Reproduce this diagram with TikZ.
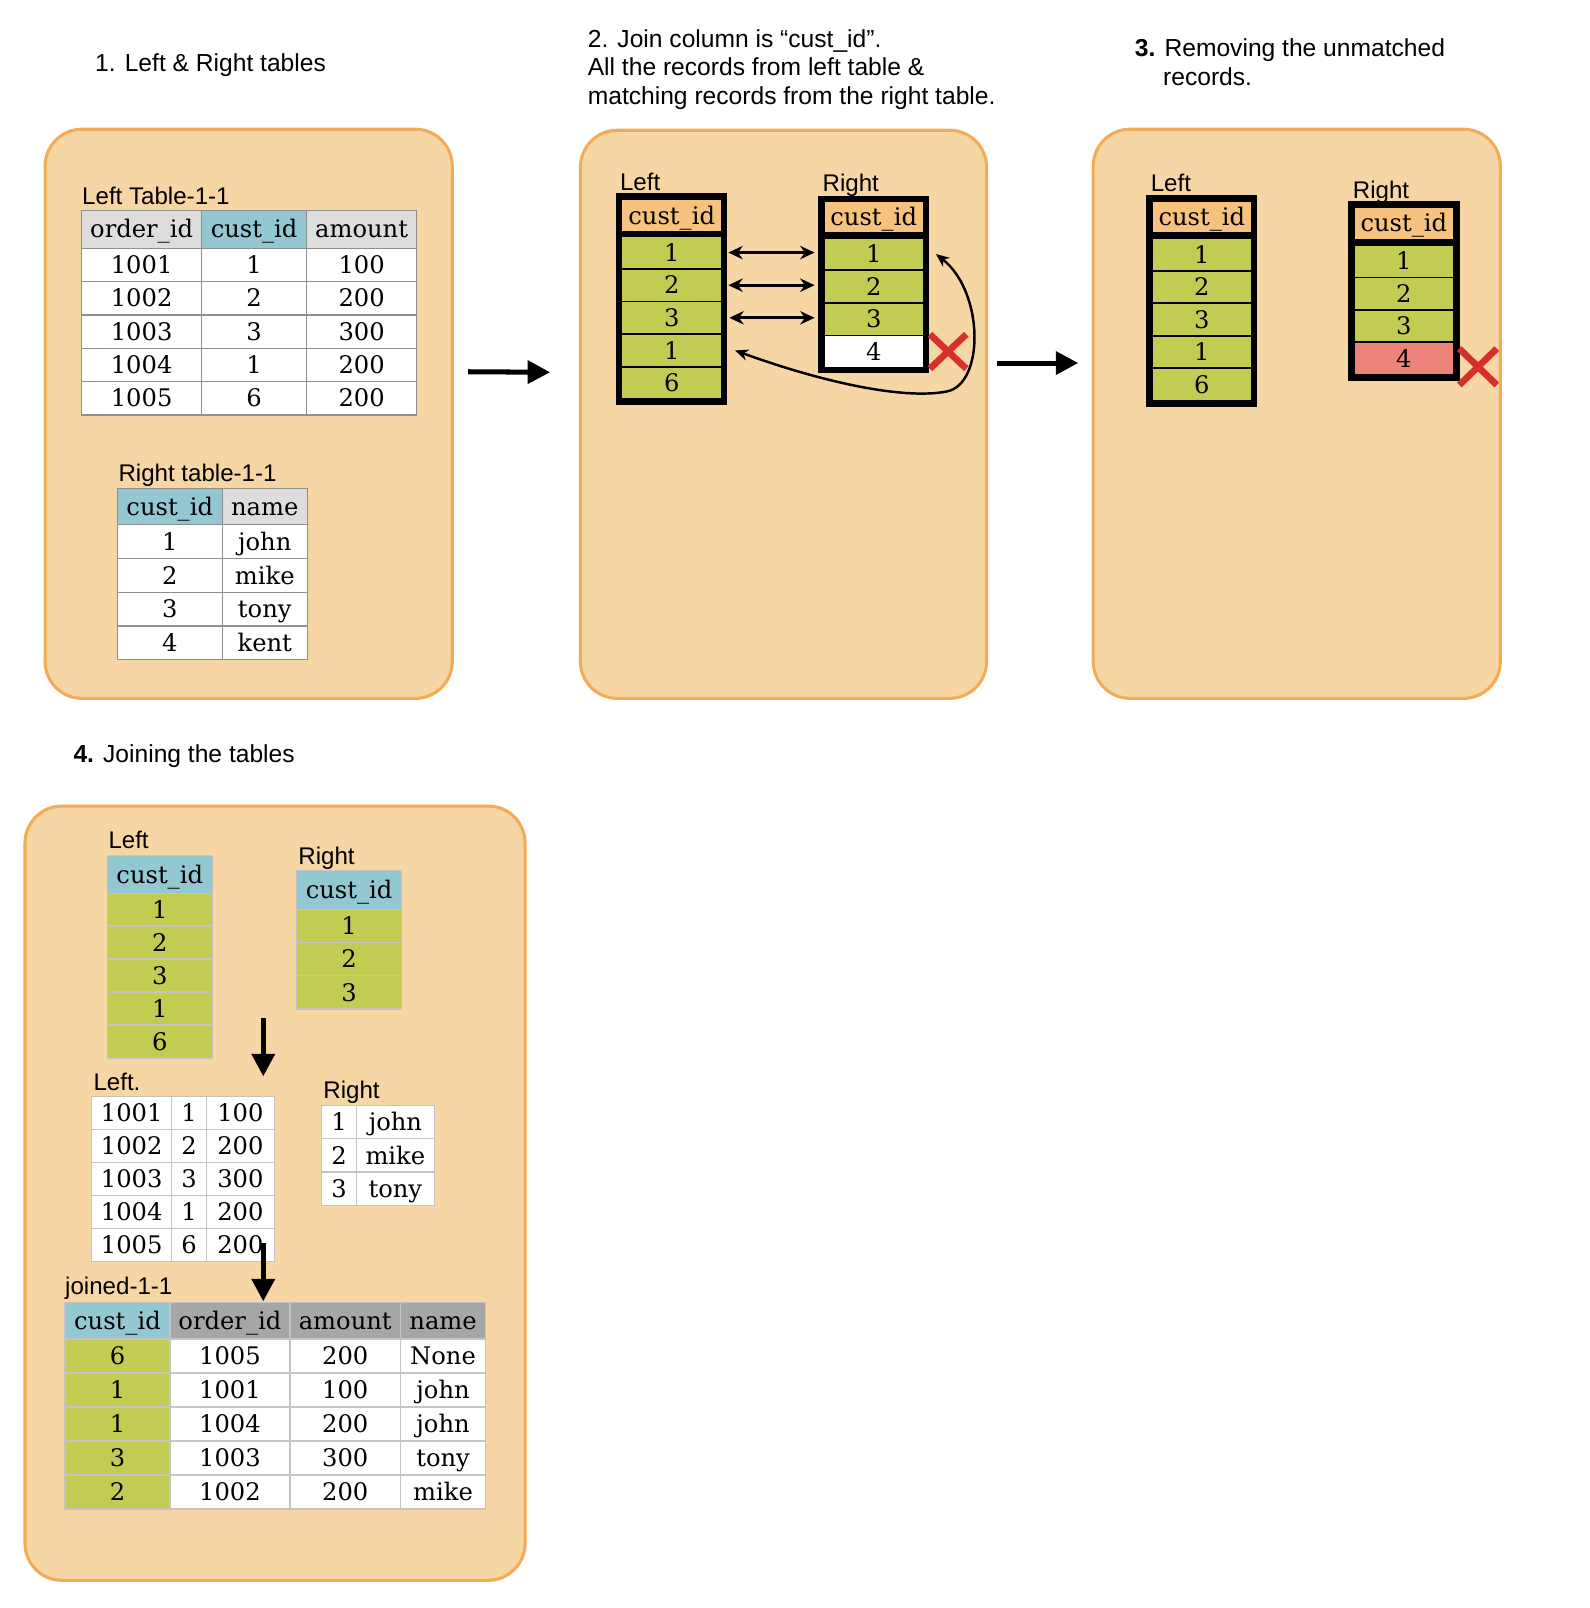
\documentclass[tikz,border=0pt]{standalone}
\usepackage{fontspec}
\setmainfont{Liberation Sans}
\newfontfamily\typefont{DejaVu Serif}
\usetikzlibrary{arrows.meta,positioning,shapes.misc}

\definecolor{panelfill}{HTML}{F7D6A6}
\definecolor{panelline}{HTML}{F3AC55}
\definecolor{tealhead}{HTML}{93C8D2}
\definecolor{lighthead}{HTML}{DDDDDD}
\definecolor{darkhead}{HTML}{A6A6A6}
\definecolor{grass}{HTML}{C2CC52}
\definecolor{orangehead}{HTML}{F6C27E}
\definecolor{salmon}{HTML}{EE837A}
\definecolor{crossred}{HTML}{D7302A}
\definecolor{gridline}{HTML}{8F8F8F}
\definecolor{softline}{HTML}{C4C4C4}

\tikzset{
  panel/.style={draw=panelline, fill=panelfill, line width=3pt, rounded corners=36pt, inner sep=0pt},
  title/.style={anchor=base west, inner sep=0pt, font=\fontsize{24}{28}\selectfont},
  tag/.style={anchor=base west, inner sep=0pt, font=\fontsize{23.5}{28}\selectfont},
  cell/.style={draw=gridline, line width=1.2pt, fill=white, inner sep=0pt, text height=17pt, text depth=0pt,
    font=\typefont\fontsize{23.6}{28}\selectfont},
  soft/.style={cell, draw=softline},
  frame/.style={fill=black, inner sep=0pt},
  slot/.style={inner sep=0pt, minimum width=96pt, minimum height=30pt, text height=17pt, text depth=0pt,
    font=\typefont\fontsize{23.6}{28}\selectfont},
  pairarrow/.style={line width=3pt, {Stealth[length=14pt,width=13pt]}-{Stealth[length=14pt,width=13pt]}},
  loopline/.style={line width=2.4pt, {Stealth[length=13pt,width=11pt]}-{Stealth[length=13pt,width=11pt]}},
  flowarrow/.style={line width=4.9pt, -{Triangle[length=22pt,width=22pt]}},
  crossmark/.style={cross out, draw=crossred, line width=6.5pt, inner sep=0pt},
}

\begin{document}
\begin{tikzpicture}[x=1pt, y=-1pt]
  \useasboundingbox (0, 0) rectangle (1550, 1568);

  % Panels
  \node[panel, minimum width=397pt, minimum height=555pt] (p1) at (242.5, 403.5) {};
  \node[panel, minimum width=396pt, minimum height=554pt] (p2) at (764, 404) {};
  \node[panel, minimum width=397pt, minimum height=555pt] (p3) at (1264.5, 403.5) {};
  \node[panel, minimum width=487.6pt, minimum height=755pt] (p4) at (268.2, 1163.5) {};

  % Titles
  \node[title] (t1) at (92.6, 70) {1. Left \& Right tables};
  \node[title, align=left] (t2) at (573, 102) {2. Join column is “cust\_id”.\\All the records from left table \&\\matching records from the right table.};
  \node[title] (t3) at (1106.5, 55) {\textbf{3.} Removing the unmatched};
  \node[title] (t3b) at (1134, 83) {records.};
  \node[title] (t4) at (71.5, 744) {\textbf{4.} Joining the tables};

  % Step 1: left table
  \node[tag] (lt-tag) at (80, 199.4) {Left Table-1-1};
  \node[cell, fill=lighthead, minimum width=117pt, minimum height=37pt] (lt-h1) at (138.1, 223.5) {order\_id};
  \node[cell, fill=tealhead, minimum width=102.4pt, minimum height=37pt] (lt-h2) at (247.8, 223.5) {cust\_id};
  \node[cell, fill=lighthead, minimum width=107.2pt, minimum height=37pt] (lt-h3) at (352.6, 223.5) {amount};
  \node[cell, minimum width=117pt, minimum height=32.5pt] (lt-11) at (138.1, 258.35) {1001};
  \node[cell, minimum width=102.4pt, minimum height=32.5pt] (lt-12) at (247.8, 258.35) {1};
  \node[cell, minimum width=107.2pt, minimum height=32.5pt] (lt-13) at (352.6, 258.35) {100};
  \node[cell, minimum width=117pt, minimum height=32.5pt] (lt-21) at (138.1, 290.85) {1002};
  \node[cell, minimum width=102.4pt, minimum height=32.5pt] (lt-22) at (247.8, 290.85) {2};
  \node[cell, minimum width=107.2pt, minimum height=32.5pt] (lt-23) at (352.6, 290.85) {200};
  \node[cell, minimum width=117pt, minimum height=32.5pt] (lt-31) at (138.1, 323.35) {1003};
  \node[cell, minimum width=102.4pt, minimum height=32.5pt] (lt-32) at (247.8, 323.35) {3};
  \node[cell, minimum width=107.2pt, minimum height=32.5pt] (lt-33) at (352.6, 323.35) {300};
  \node[cell, minimum width=117pt, minimum height=32.5pt] (lt-41) at (138.1, 355.85) {1004};
  \node[cell, minimum width=102.4pt, minimum height=32.5pt] (lt-42) at (247.8, 355.85) {1};
  \node[cell, minimum width=107.2pt, minimum height=32.5pt] (lt-43) at (352.6, 355.85) {200};
  \node[cell, minimum width=117pt, minimum height=32.5pt] (lt-51) at (138.1, 388.35) {1005};
  \node[cell, minimum width=102.4pt, minimum height=32.5pt] (lt-52) at (247.8, 388.35) {6};
  \node[cell, minimum width=107.2pt, minimum height=32.5pt] (lt-53) at (352.6, 388.35) {200};

  % Step 1: right table
  \node[tag] (rt-tag) at (115.4, 469.8) {Right table-1-1};
  \node[cell, fill=tealhead, minimum width=102.3pt, minimum height=35.8pt] (rt-h1) at (165.55, 493.9) {cust\_id};
  \node[cell, fill=lighthead, minimum width=82.9pt, minimum height=35.8pt] (rt-h2) at (258.15, 493.9) {name};
  \node[cell, minimum width=102.3pt, minimum height=32.9pt] (rt-11) at (165.55, 528.25) {1};
  \node[cell, minimum width=82.9pt, minimum height=32.9pt] (rt-12) at (258.15, 528.25) {john};
  \node[cell, minimum width=102.3pt, minimum height=32.9pt] (rt-21) at (165.55, 561.15) {2};
  \node[cell, minimum width=82.9pt, minimum height=32.9pt] (rt-22) at (258.15, 561.15) {mike};
  \node[cell, minimum width=102.3pt, minimum height=32.9pt] (rt-31) at (165.55, 594.05) {3};
  \node[cell, minimum width=82.9pt, minimum height=32.9pt] (rt-32) at (258.15, 594.05) {tony};
  \node[cell, minimum width=102.3pt, minimum height=32.9pt] (rt-41) at (165.55, 626.95) {4};
  \node[cell, minimum width=82.9pt, minimum height=32.9pt] (rt-42) at (258.15, 626.95) {kent};

  % Step 2: join column
  \node[tag] (lf-tag) at (604.4, 185.4) {Left};
  \node[frame, minimum width=108.5pt, minimum height=207pt] (lf) at (654.75, 291.5) {};
  \node[slot, fill=orangehead, minimum height=30.5pt] (lf-h) at (655, 210.25) {cust\_id};
  \node[slot, fill=grass] (lf-1) at (655, 246.3) {1};
  \node[slot, fill=grass] (lf-2) at (655, 278.1) {2};
  \node[slot, fill=grass] (lf-3) at (655, 309.9) {3};
  \node[slot, fill=grass] (lf-4) at (655, 341.7) {1};
  \node[slot, fill=grass] (lf-5) at (655, 373.5) {6};

  \node[tag] (rf-tag) at (802, 187.1) {Right};
  \node[frame, minimum width=108.3pt, minimum height=173.2pt] (rf) at (851.85, 277.4) {};
  \node[slot, fill=orangehead, minimum height=29.2pt] (rf-h) at (852, 211.2) {cust\_id};
  \node[slot, fill=grass] (rf-1) at (852, 247.7) {1};
  \node[slot, fill=grass] (rf-2) at (852, 279.5) {2};
  \node[slot, fill=grass] (rf-3) at (852, 311.3) {3};
  \node[slot, fill=white] (rf-4) at (852, 342.9) {4};
  \node[crossmark, minimum width=29pt, minimum height=27pt] (rf-x) at (924.5, 342.75) {};

  \draw[pairarrow] ([xshift=7pt]lf-1.east) -- ([xshift=-9.5pt]lf-1.east -| rf-1.west);
  \draw[pairarrow] ([xshift=7pt]lf-2.east) -- ([xshift=-9.5pt]lf-2.east -| rf-2.west);
  \draw[pairarrow] ([xshift=8pt]lf-3.east) -- ([xshift=-9.5pt]lf-3.east -| rf-3.west);
  \draw[loopline] ([xshift=13.5pt]lf-4.east) .. controls (800, 372) and (880, 390) .. (922.9, 381.8)
    .. controls (960, 375) and (960, 285) .. ([xshift=12.5pt]rf-1.east);

  % Step 3: unmatched removed
  \node[tag] (ml-tag) at (1122, 187.1) {Left};
  \node[frame, minimum width=108.4pt, minimum height=206.5pt] (ml) at (1171.2, 293.25) {};
  \node[slot, fill=orangehead, minimum width=95.2pt, minimum height=29.9pt] (ml-h) at (1171.9, 211.55) {cust\_id};
  \node[slot, fill=grass, minimum width=95.2pt] (ml-1) at (1171.9, 248.1) {1};
  \node[slot, fill=grass, minimum width=95.2pt] (ml-2) at (1171.9, 279.85) {2};
  \node[slot, fill=grass, minimum width=95.2pt] (ml-3) at (1171.9, 311.6) {3};
  \node[slot, fill=grass, minimum width=95.2pt] (ml-4) at (1171.9, 343.35) {1};
  \node[slot, fill=grass, minimum width=95.2pt] (ml-5) at (1171.9, 375.1) {6};

  \node[tag] (mr-tag) at (1319, 193.4) {Right};
  \node[frame, minimum width=108.8pt, minimum height=175.4pt] (mr) at (1368.9, 283.7) {};
  \node[slot, fill=orangehead, minimum width=95.8pt, minimum height=30.6pt] (mr-h) at (1368.9, 217.7) {cust\_id};
  \node[slot, fill=grass, minimum width=95.8pt] (mr-1) at (1368.9, 254.75) {1};
  \node[slot, fill=grass, minimum width=95.8pt] (mr-2) at (1368.9, 286.35) {2};
  \node[slot, fill=grass, minimum width=95.8pt] (mr-3) at (1368.9, 317.95) {3};
  \node[slot, fill=salmon, minimum width=95.8pt] (mr-4) at (1368.9, 349.55) {4};
  \node[crossmark, minimum width=30pt, minimum height=29pt] (mr-x) at (1441.25, 357.7) {};

  % Arrows between the panels
  \draw[flowarrow] ([xshift=14pt, yshift=41pt]p1.east) -- ([xshift=-28pt, yshift=41pt]p2.west);
  \draw[flowarrow] ([xshift=9pt, yshift=50pt]p2.east) -- ([xshift=-13pt, yshift=49.5pt]p3.west);

  % Step 4: key columns
  \node[tag] (ql-tag) at (105.6, 827.4) {Left};
  \node[soft, fill=tealhead, minimum width=102.4pt, minimum height=36.7pt] (ql-h) at (155.8, 852.55) {cust\_id};
  \node[soft, fill=grass, minimum width=102.4pt, minimum height=32.16pt] (ql-1) at (155.8, 886.98) {1};
  \node[soft, fill=grass, minimum width=102.4pt, minimum height=32.16pt] (ql-2) at (155.8, 919.14) {2};
  \node[soft, fill=grass, minimum width=102.4pt, minimum height=32.16pt] (ql-3) at (155.8, 951.3) {3};
  \node[soft, fill=grass, minimum width=102.4pt, minimum height=32.16pt] (ql-4) at (155.8, 983.46) {1};
  \node[soft, fill=grass, minimum width=102.4pt, minimum height=32.16pt] (ql-5) at (155.8, 1015.62) {6};

  \node[tag] (qr-tag) at (290.8, 843.4) {Right};
  \node[soft, fill=tealhead, minimum width=102.4pt, minimum height=37.4pt] (qr-h) at (340.4, 867.8) {cust\_id};
  \node[soft, fill=grass, minimum width=102.4pt, minimum height=32.47pt] (qr-1) at (340.4, 902.73) {1};
  \node[soft, fill=grass, minimum width=102.4pt, minimum height=32.47pt] (qr-2) at (340.4, 935.2) {2};
  \node[soft, fill=grass, minimum width=102.4pt, minimum height=32.47pt] (qr-3) at (340.4, 967.67) {3};

  % Step 4: rows picked up
  \node[tag] (lj-tag) at (91, 1062.9) {Left.};
  \node[soft, minimum width=78pt, minimum height=32.2pt] (lj-11) at (128.4, 1085.2) {1001};
  \node[soft, minimum width=34.1pt, minimum height=32.2pt] (lj-12) at (184.45, 1085.2) {1};
  \node[soft, minimum width=65.9pt, minimum height=32.2pt] (lj-13) at (234.45, 1085.2) {100};
  \node[soft, minimum width=78pt, minimum height=32.2pt] (lj-21) at (128.4, 1117.4) {1002};
  \node[soft, minimum width=34.1pt, minimum height=32.2pt] (lj-22) at (184.45, 1117.4) {2};
  \node[soft, minimum width=65.9pt, minimum height=32.2pt] (lj-23) at (234.45, 1117.4) {200};
  \node[soft, minimum width=78pt, minimum height=32.2pt] (lj-31) at (128.4, 1149.6) {1003};
  \node[soft, minimum width=34.1pt, minimum height=32.2pt] (lj-32) at (184.45, 1149.6) {3};
  \node[soft, minimum width=65.9pt, minimum height=32.2pt] (lj-33) at (234.45, 1149.6) {300};
  \node[soft, minimum width=78pt, minimum height=32.2pt] (lj-41) at (128.4, 1181.7) {1004};
  \node[soft, minimum width=34.1pt, minimum height=32.2pt] (lj-42) at (184.45, 1181.7) {1};
  \node[soft, minimum width=65.9pt, minimum height=32.2pt] (lj-43) at (234.45, 1181.7) {200};
  \node[soft, minimum width=78pt, minimum height=32.2pt] (lj-51) at (128.4, 1213.9) {1005};
  \node[soft, minimum width=34.1pt, minimum height=32.2pt] (lj-52) at (184.45, 1213.9) {6};
  \node[soft, minimum width=65.9pt, minimum height=32.2pt] (lj-53) at (234.45, 1213.9) {200};

  \node[tag] (rj-tag) at (315.2, 1071) {Right};
  \node[soft, minimum width=34.1pt, minimum height=32.5pt] (rj-11) at (330.65, 1094.15) {1};
  \node[soft, minimum width=75.7pt, minimum height=32.5pt] (rj-12) at (385.55, 1094.15) {john};
  \node[soft, minimum width=34.1pt, minimum height=32.5pt] (rj-21) at (330.65, 1126.65) {2};
  \node[soft, minimum width=75.7pt, minimum height=32.5pt] (rj-22) at (385.55, 1126.65) {mike};
  \node[soft, minimum width=34.1pt, minimum height=32.5pt] (rj-31) at (330.65, 1159.15) {3};
  \node[soft, minimum width=75.7pt, minimum height=32.5pt] (rj-32) at (385.55, 1159.15) {tony};

  % Step 4: joined result
  \node[tag] (jt-tag) at (63.4, 1262.7) {joined-1-1};
  \node[soft, fill=tealhead, minimum width=102.3pt, minimum height=35.6pt] (jt-h1) at (114.55, 1287.8) {cust\_id};
  \node[soft, fill=darkhead, minimum width=117pt, minimum height=35.6pt] (jt-h2) at (224.2, 1287.8) {order\_id};
  \node[soft, fill=darkhead, minimum width=107.9pt, minimum height=35.6pt] (jt-h3) at (336.65, 1287.8) {amount};
  \node[soft, fill=darkhead, minimum width=82.9pt, minimum height=35.6pt] (jt-h4) at (432.05, 1287.8) {name};
  \node[soft, fill=grass, minimum width=102.3pt, minimum height=33.16pt] (jt-11) at (114.55, 1322.18) {6};
  \node[soft, minimum width=117pt, minimum height=33.16pt] (jt-12) at (224.2, 1322.18) {1005};
  \node[soft, minimum width=107.9pt, minimum height=33.16pt] (jt-13) at (336.65, 1322.18) {200};
  \node[soft, minimum width=82.9pt, minimum height=33.16pt] (jt-14) at (432.05, 1322.18) {None};
  \node[soft, fill=grass, minimum width=102.3pt, minimum height=33.16pt] (jt-21) at (114.55, 1355.34) {1};
  \node[soft, minimum width=117pt, minimum height=33.16pt] (jt-22) at (224.2, 1355.34) {1001};
  \node[soft, minimum width=107.9pt, minimum height=33.16pt] (jt-23) at (336.65, 1355.34) {100};
  \node[soft, minimum width=82.9pt, minimum height=33.16pt] (jt-24) at (432.05, 1355.34) {john};
  \node[soft, fill=grass, minimum width=102.3pt, minimum height=33.16pt] (jt-31) at (114.55, 1388.5) {1};
  \node[soft, minimum width=117pt, minimum height=33.16pt] (jt-32) at (224.2, 1388.5) {1004};
  \node[soft, minimum width=107.9pt, minimum height=33.16pt] (jt-33) at (336.65, 1388.5) {200};
  \node[soft, minimum width=82.9pt, minimum height=33.16pt] (jt-34) at (432.05, 1388.5) {john};
  \node[soft, fill=grass, minimum width=102.3pt, minimum height=33.16pt] (jt-41) at (114.55, 1421.66) {3};
  \node[soft, minimum width=117pt, minimum height=33.16pt] (jt-42) at (224.2, 1421.66) {1003};
  \node[soft, minimum width=107.9pt, minimum height=33.16pt] (jt-43) at (336.65, 1421.66) {300};
  \node[soft, minimum width=82.9pt, minimum height=33.16pt] (jt-44) at (432.05, 1421.66) {tony};
  \node[soft, fill=grass, minimum width=102.3pt, minimum height=33.16pt] (jt-51) at (114.55, 1454.82) {2};
  \node[soft, minimum width=117pt, minimum height=33.16pt] (jt-52) at (224.2, 1454.82) {1002};
  \node[soft, minimum width=107.9pt, minimum height=33.16pt] (jt-53) at (336.65, 1454.82) {200};
  \node[soft, minimum width=82.9pt, minimum height=33.16pt] (jt-54) at (432.05, 1454.82) {mike};

  % Downward arrows
  \coordinate (d1a) at (256.7, 992.7);
  \coordinate (d1b) at (256.7, 1049.6);
  \coordinate (d2a) at (256.7, 1212);
  \coordinate (d2b) at (256.7, 1269);
  \draw[flowarrow] (d1a) -- (d1b);
  \draw[flowarrow] (d2a) -- (d2b);
\end{tikzpicture}
\end{document}
